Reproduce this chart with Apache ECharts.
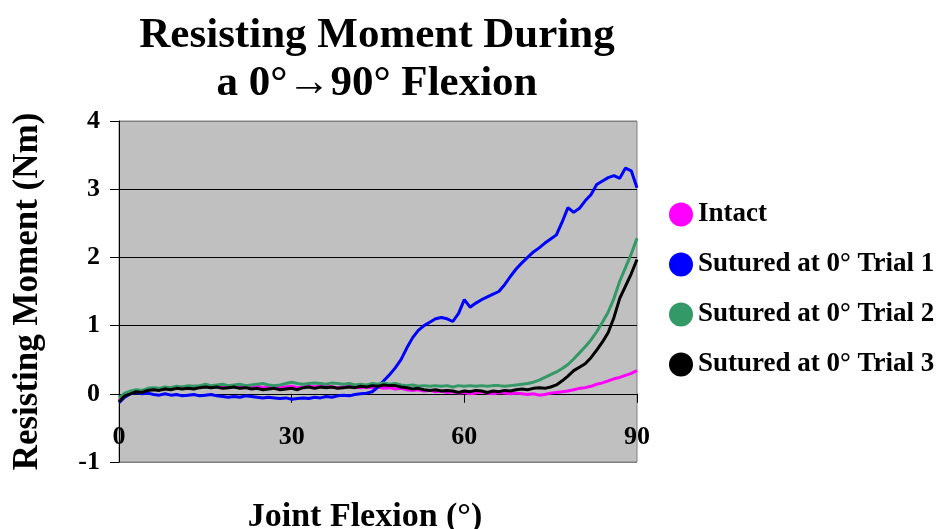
<!DOCTYPE html>
<html>
<head>
<meta charset="utf-8">
<script src="https://cdn.jsdelivr.net/npm/echarts@6/dist/echarts.min.js"></script>
<style>
html,body{margin:0;padding:0;background:#fff;}
#chart{width:942px;height:529px;}
</style>
</head>
<body>
<div id="chart"></div>
<script>
// Joint flexion angle (degrees)
var flexion = [0,1,2,3,4,5,6,7,8,9,10,11,12,13,14,15,16,17,18,19,20,21,22,23,24,25,26,27,28,29,30,
  31,32,33,34,35,36,37,38,39,40,41,42,43,44,45,46,47,48,49,50,51,52,53,54,55,56,57,58,59,60,
  61,62,63,64,65,66,67,68,69,70,71,72,73,74,75,76,77,78,79,80,81,82,83,84,85,86,87,88,89,90];

var intact = [-0.10,-0.02,0.02,0.04,0.03,0.06,0.07,0.06,0.08,0.09,0.08,
  0.10,0.09,0.11,0.10,0.12,0.10,0.11,0.12,0.10,0.11,
  0.10,0.12,0.10,0.11,0.09,0.10,0.11,0.09,0.10,0.11,
  0.09,0.10,0.11,0.10,0.12,0.11,0.10,0.09,0.10,0.11,
  0.10,0.09,0.10,0.09,0.10,0.08,0.09,0.07,0.08,0.06,
  0.05,0.06,0.04,0.05,0.03,0.04,0.02,0.03,0.01,0.02,
  0.00,0.01,0.03,0.01,0.00,0.02,0.01,0.00,0.01,0.00,
  -0.01,0.00,-0.02,-0.01,0.01,0.02,0.03,0.04,0.06,0.08,
  0.09,0.11,0.14,0.16,0.19,0.22,0.24,0.27,0.30,0.34];

var trial1 = [-0.13,-0.05,0.00,0.02,0.00,0.01,-0.01,-0.02,0.00,-0.02,-0.01,
  -0.03,-0.02,-0.01,-0.03,-0.02,-0.01,-0.03,-0.04,-0.05,-0.04,
  -0.05,-0.03,-0.04,-0.05,-0.06,-0.05,-0.06,-0.07,-0.06,-0.08,
  -0.07,-0.06,-0.07,-0.05,-0.06,-0.04,-0.05,-0.03,-0.02,-0.03,
  -0.01,0.00,0.01,0.03,0.10,0.19,0.28,0.38,0.50,0.67,
  0.82,0.93,1.00,1.05,1.10,1.12,1.10,1.06,1.18,1.38,
  1.27,1.33,1.38,1.42,1.46,1.50,1.60,1.72,1.83,1.92,
  2.00,2.08,2.14,2.21,2.27,2.33,2.52,2.73,2.66,2.72,
  2.83,2.92,3.07,3.12,3.17,3.20,3.16,3.31,3.27,3.02];

var trial2 = [-0.06,0.01,0.04,0.06,0.05,0.08,0.09,0.08,0.10,0.09,0.11,
  0.10,0.12,0.11,0.12,0.14,0.12,0.13,0.14,0.12,0.13,
  0.14,0.12,0.13,0.14,0.15,0.13,0.12,0.13,0.15,0.17,
  0.15,0.14,0.15,0.16,0.15,0.14,0.16,0.15,0.14,0.15,
  0.13,0.14,0.13,0.15,0.14,0.16,0.14,0.15,0.13,0.12,
  0.13,0.11,0.12,0.11,0.12,0.11,0.12,0.10,0.12,0.11,
  0.12,0.11,0.12,0.11,0.12,0.12,0.11,0.12,0.13,0.14,
  0.15,0.17,0.20,0.24,0.28,0.32,0.37,0.43,0.51,0.60,
  0.69,0.79,0.91,1.05,1.20,1.40,1.65,1.85,2.05,2.28];

var trial3 = [-0.12,-0.03,0.00,0.03,0.02,0.05,0.06,0.05,0.07,0.06,0.08,
  0.07,0.08,0.07,0.09,0.10,0.09,0.10,0.08,0.09,0.10,
  0.08,0.09,0.07,0.08,0.06,0.07,0.08,0.06,0.07,0.08,
  0.06,0.09,0.10,0.08,0.10,0.09,0.10,0.08,0.09,0.10,
  0.09,0.11,0.10,0.12,0.11,0.13,0.12,0.12,0.10,0.09,
  0.07,0.08,0.06,0.05,0.06,0.04,0.05,0.04,0.02,0.04,
  0.03,0.05,0.04,0.02,0.04,0.03,0.05,0.04,0.06,0.07,
  0.06,0.08,0.09,0.08,0.10,0.13,0.19,0.26,0.34,0.39,
  0.44,0.53,0.64,0.76,0.90,1.12,1.40,1.58,1.76,1.97];

var seriesNames = ['Intact','Sutured at 0\u00B0 Trial 1','Sutured at 0\u00B0 Trial 2','Sutured at 0\u00B0 Trial 3'];
var seriesColors = ['#FF00FF','#0000FF','#339966','#000000'];
var xTicks = [0,30,60,90];
var yTicks = [-1,0,1,2,3,4];

function pairs(vals){
  var out = [];
  for (var i = 0; i < vals.length; i++) out.push([flexion[i], vals[i]]);
  return out;
}

var FONT = '"Liberation Serif","Times New Roman",serif';
var chart = echarts.init(document.getElementById('chart'), null, {renderer:'canvas'});
var allData = [intact, trial1, trial2, trial3];
var series = allData.map(function(d, i){
  return {
    name: seriesNames[i],
    type: 'line',
    data: pairs(d),
    showSymbol: false,
    symbol: 'none',
    lineStyle: {color: seriesColors[i], width: 3},
    itemStyle: {color: seriesColors[i]},
    z: 2 + i
  };
});

chart.setOption({
  animation: false,
  backgroundColor: '#ffffff',
  title: {
    text: 'Resisting Moment During\na 0\u00B0\u219290\u00B0 Flexion',
    left: 377,
    textAlign: 'center',
    top: 12,
    padding: 0,
    textStyle: {fontFamily: FONT, fontWeight: 'bold', fontSize: 43, lineHeight: 48, color: '#000'}
  },
  legend: {
    orient: 'vertical',
    left: 664,
    top: 196,
    itemWidth: 24,
    itemHeight: 24,
    itemGap: 23,
    icon: 'circle',
    data: seriesNames,
    textStyle: {fontFamily: FONT, fontWeight: 'bold', fontSize: 27, color: '#000'}
  },
  grid: {
    left: 119, top: 121, width: 518, height: 341,
    outerBoundsMode: 'none',
    containLabel: false,
    show: true,
    backgroundColor: '#C0C0C0',
    borderColor: '#808080',
    borderWidth: 1
  },
  xAxis: {
    type: 'value',
    min: xTicks[0], max: xTicks[xTicks.length-1], interval: 30,
    name: 'Joint Flexion (\u00B0)',
    nameLocation: 'middle',
    nameGap: 38,
    nameTextStyle: {fontFamily: FONT, fontWeight: 'bold', fontSize: 34, color: '#000', padding: [0, 26, 0, 0]},
    axisLine: {show: true, onZero: true, lineStyle: {color: '#000', width: 1}},
    axisTick: {show: true, inside: false, length: 9, lineStyle: {color: '#000'}},
    axisLabel: {margin: -38, fontFamily: FONT, fontWeight: 'bold', fontSize: 26, color: '#000'},
    splitLine: {show: false}
  },
  yAxis: {
    type: 'value',
    min: yTicks[0], max: yTicks[yTicks.length-1], interval: 1,
    name: 'Resisting Moment (Nm)',
    nameLocation: 'middle',
    nameGap: 74,
    nameRotate: 90,
    nameTextStyle: {fontFamily: FONT, fontWeight: 'bold', fontSize: 35, color: '#000'},
    axisLine: {show: true, lineStyle: {color: '#000', width: 1}},
    axisTick: {show: true, inside: false, length: 9, lineStyle: {color: '#000'}},
    axisLabel: {margin: 19, fontFamily: FONT, fontWeight: 'bold', fontSize: 26, color: '#000'},
    splitLine: {show: true, lineStyle: {color: ['#808080','#000000','#000000','#000000','#000000','#808080'], width: 1}}
  },
  series: series
});
</script>
</body>
</html>
